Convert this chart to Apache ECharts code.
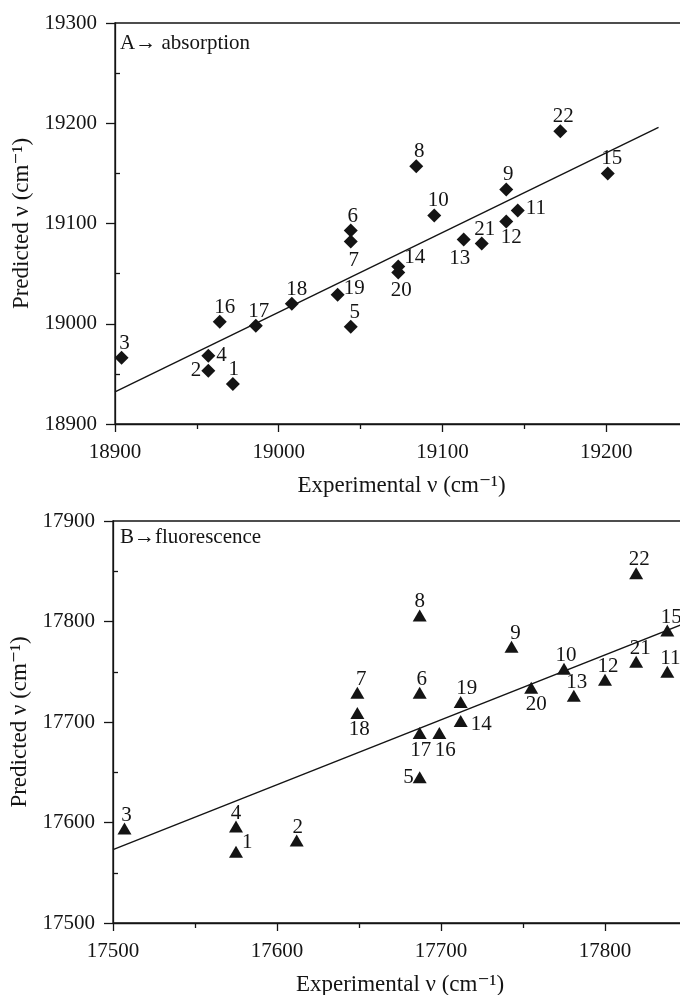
<!DOCTYPE html>
<html>
<head>
<meta charset="utf-8">
<script src="https://cdn.jsdelivr.net/npm/echarts@6/dist/echarts.min.js"></script>
<style>
  html, body { margin: 0; padding: 0; background: #fff; }
  #chart { width: 680px; height: 995px; }
</style>
</head>
<body>
<div id="chart"></div>
<script>
// Compound numbers
const compoundIds = [1, 2, 3, 4, 5, 6, 7, 8, 9, 10, 11, 12, 13, 14, 15, 16, 17, 18, 19, 20, 21, 22];

// Panel A: absorption maxima (cm^-1)
const absExperimental = [18972, 18957, 18904, 18957, 19044, 19044, 19044, 19084, 19139, 19095, 19146,
                         19139, 19113, 19073, 19201, 18964, 18986, 19008, 19036, 19073, 19124, 19172];
const absPredicted    = [18940, 18953, 18966, 18968, 18997, 19093, 19082, 19157, 19134, 19108, 19113,
                         19102, 19084, 19057, 19150, 19002, 18998, 19020, 19029, 19051, 19080, 19192];
const absFitX = [18900, 19232];
const absFitY = [18932, 19196];

// Panel B: fluorescence maxima (cm^-1)
const flExperimental = [17575, 17612, 17507, 17575, 17687, 17687, 17649, 17687, 17743, 17775, 17838,
                        17800, 17781, 17712, 17838, 17699, 17687, 17649, 17712, 17755, 17819, 17819];
const flPredicted    = [17571, 17582, 17594, 17596, 17645, 17729, 17729, 17806, 17775, 17753, 17750,
                        17742, 17726, 17701, 17791, 17689, 17689, 17709, 17720, 17734, 17760, 17848];
const flFitX = [17500, 17850];
const flFitY = [17573, 17799];

// Axis ranges and tick values
const absXTicks = [18900, 19000, 19100, 19200];
const absYTicks = [18900, 19000, 19100, 19200, 19300];
const flXTicks = [17500, 17600, 17700, 17800];
const flYTicks = [17500, 17600, 17700, 17800, 17900];

// Where each point's number sits relative to its marker
const absLabelPlace = [
  ['top', [1, 0]], ['left', [1, 0]], ['top', [3, 0]], ['right', [0, 0]], ['top', [4, 0]],
  ['top', [2, 0]], ['bottom', [3, 0]], ['top', [3, 0]], ['top', [2, 0]], ['top', [4, 0]],
  ['right', [0, -2]], ['bottom', [5, -3]], ['bottom', [-4, 0]], ['right', [-2, -9]], ['top', [4, 0]],
  ['top', [5, 0]], ['top', [3, 0]], ['top', [5, 0]], ['right', [-2, -6]], ['bottom', [3, -1]],
  ['top', [3, 0]], ['top', [3, 0]]
];
const flLabelPlace = [
  ['right', [-2, -9]], ['top', [1, 0]], ['top', [2, 0]], ['top', [0, 0]], ['left', [2, 0]],
  ['top', [2, 0]], ['top', [4, 0]], ['top', [0, 0]], ['top', [4, 0]], ['top', [2, 0]],
  ['top', [3, 0]], ['top', [3, 0]], ['top', [3, 0]], ['right', [2, 3]], ['top', [4, 0]],
  ['bottom', [6, 0]], ['bottom', [1, 0]], ['bottom', [2, -1]], ['top', [6, 0]], ['bottom', [5, -1]],
  ['top', [4, 0]], ['top', [3, 0]]
];

const INK = '#141414';
const SERIF = '"Liberation Serif", "DejaVu Serif", serif';
const TICK_TXT = 21;
const NAME_TXT = 23;
const MARK_TXT = 21;

function pointData(xs, ys, places) {
  return compoundIds.map((id, i) => ({
    name: String(id),
    value: [xs[i], ys[i]],
    label: {
      position: places[i][0],
      offset: places[i][1],
      distance: places[i][0] === 'top' ? -3 : 1
    }
  }));
}

function fitData(xs, ys) {
  return xs.map((x, i) => [x, ys[i]]);
}

const plainNumber = v => String(v);

function xAxisFor(gridIndex, ticks) {
  return {
    type: 'value',
    gridIndex,
    min: ticks[0],
    max: ticks[ticks.length - 1] + 50,
    interval: 100,
    name: 'Experimental \u03BD (cm\u207B\u00B9)',
    nameLocation: 'middle',
    nameGap: 50,
    nameTextStyle: { fontFamily: SERIF, fontSize: NAME_TXT, color: INK },
    axisLine: { show: true, lineStyle: { color: INK, width: 1.3 } },
    axisTick: { show: true, inside: false, length: 8, lineStyle: { color: INK, width: 1.3 } },
    minorTick: { show: true, splitNumber: 2, length: 5, lineStyle: { color: INK, width: 1.3 } },
    axisLabel: {
      margin: 18, fontFamily: SERIF, fontSize: TICK_TXT, color: INK,
      customValues: ticks, formatter: plainNumber
    },
    splitLine: { show: false }
  };
}

function yAxisFor(gridIndex, ticks) {
  return {
    type: 'value',
    gridIndex,
    min: ticks[0],
    max: ticks[ticks.length - 1],
    interval: 100,
    name: 'Predicted \u03BD (cm\u207B\u00B9)',
    nameLocation: 'middle',
    nameGap: 80,
    nameRotate: 90,
    nameTextStyle: { fontFamily: SERIF, fontSize: NAME_TXT, color: INK },
    axisLine: { show: true, lineStyle: { color: INK, width: 1.3 } },
    axisTick: { show: true, inside: false, length: 9, lineStyle: { color: INK, width: 1.3 } },
    axisLabel: { margin: 18, fontFamily: SERIF, fontSize: TICK_TXT, color: INK, formatter: plainNumber },
    splitLine: { show: false }
  };
}

// Half-step ticks on the y axes point into the plot
function yMinorAxisFor(gridIndex, ticks) {
  const mids = [];
  for (let i = 0; i < ticks.length - 1; i++) mids.push((ticks[i] + ticks[i + 1]) / 2);
  return {
    type: 'value',
    gridIndex,
    position: 'left',
    min: ticks[0],
    max: ticks[ticks.length - 1],
    interval: 50,
    axisLine: { show: false },
    axisTick: { show: true, inside: true, length: 5, customValues: mids, lineStyle: { color: INK, width: 1.3 } },
    axisLabel: { show: false },
    splitLine: { show: false }
  };
}

const markerLabel = {
  show: true,
  formatter: p => p.name,
  fontFamily: SERIF,
  fontSize: MARK_TXT,
  color: INK
};

const gridBase = {
  show: true, borderColor: INK, borderWidth: 1.3, backgroundColor: 'transparent',
  outerBoundsMode: 'none', containLabel: false
};

const option = {
  backgroundColor: '#fff',
  animation: false,
  grid: [
    Object.assign({ left: 115, top: 23, width: 573, height: 401 }, gridBase),
    Object.assign({ left: 113, top: 521, width: 574, height: 402 }, gridBase)
  ],
  xAxis: [xAxisFor(0, absXTicks), xAxisFor(1, flXTicks)],
  yAxis: [
    yAxisFor(0, absYTicks), yMinorAxisFor(0, absYTicks),
    yAxisFor(1, flYTicks), yMinorAxisFor(1, flYTicks)
  ],
  graphic: [
    { type: 'text', left: 120, top: 33, style: { text: 'A\u2192 absorption', font: `${MARK_TXT}px ${SERIF}`, fill: INK } },
    { type: 'text', left: 120, top: 527, style: { text: 'B\u2192fluorescence', font: `${MARK_TXT}px ${SERIF}`, fill: INK } }
  ],
  series: [
    {
      type: 'line', xAxisIndex: 0, yAxisIndex: 0,
      data: fitData(absFitX, absFitY),
      symbol: 'none', lineStyle: { color: INK, width: 1.4 }, z: 2
    },
    {
      type: 'scatter', xAxisIndex: 0, yAxisIndex: 0,
      symbol: 'diamond', symbolSize: [14, 14],
      itemStyle: { color: INK, opacity: 1 },
      label: markerLabel,
      data: pointData(absExperimental, absPredicted, absLabelPlace), z: 3
    },
    {
      type: 'line', xAxisIndex: 1, yAxisIndex: 2,
      data: fitData(flFitX, flFitY),
      symbol: 'none', lineStyle: { color: INK, width: 1.4 }, z: 2
    },
    {
      type: 'scatter', xAxisIndex: 1, yAxisIndex: 2,
      symbol: 'triangle', symbolSize: [14, 12],
      itemStyle: { color: INK, opacity: 1 },
      label: markerLabel,
      data: pointData(flExperimental, flPredicted, flLabelPlace), z: 3
    }
  ]
};

const chart = echarts.init(document.getElementById('chart'), null, { renderer: 'canvas' });
chart.setOption(option);
</script>
</body>
</html>
